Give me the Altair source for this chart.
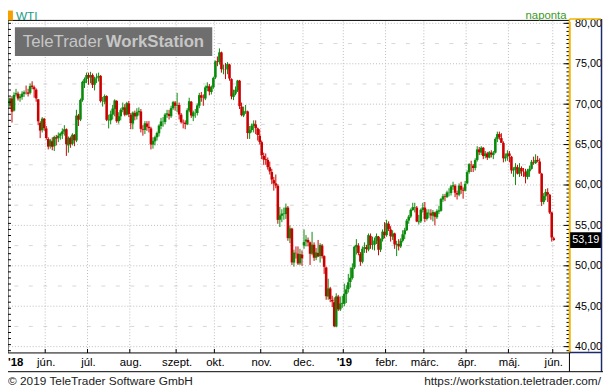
import altair as alt
import pandas as pd

# ---- daily OHLC, WTI, 7 May 2018 .. 3 Jun 2019 ----
opens = [69.80, 70.70, 69.20, 71.20, 71.30, 70.75, 70.90, 71.25, 71.50, 71.45, 71.40, 72.30, 72.10, 71.80, 70.60, 67.70, 66.80, 68.20,
         67.00, 65.70, 64.80, 65.40, 64.80, 65.90, 65.80, 66.10, 66.30, 66.60, 66.90, 64.90, 65.80, 65.10, 66.20, 65.50, 68.60, 68.10, 70.50, 72.60, 73.10,
         73.60, 73.30, 73.60, 72.40, 73.20, 73.30, 73.50, 70.30, 70.30, 71.00, 68.00, 68.00, 68.70, 69.40, 70.40, 67.90, 68.50, 69.30, 69.60, 68.70, 70.10,
         68.70, 67.60, 68.90, 68.50, 69.00, 69.10, 66.90, 66.80, 67.60, 67.20, 67.00, 65.00, 65.40, 65.90, 66.40, 67.30, 67.80, 67.80, 68.70, 68.80, 68.50, 69.50, 70.20,
         69.80, 69.90, 68.70, 67.80, 67.70, 67.50, 69.20, 70.30, 68.50, 68.90, 68.90, 69.80, 71.10, 70.80, 70.70, 72.00, 72.20, 71.50, 72.10,
         73.30, 75.30, 75.20, 76.40, 74.30, 74.30, 74.30, 74.90, 73.10, 70.90, 71.30, 71.70, 72.90, 69.70, 68.60, 69.10, 69.10, 66.40, 66.80, 67.30, 67.50, 67.00, 66.10,
         65.30, 63.60, 63.20, 63.10, 62.20, 61.60, 60.60, 60.20, 59.90, 55.70, 56.20, 56.40, 56.40, 57.20, 53.40, 54.60, 50.40, 51.60, 51.50, 50.30, 51.40,
         52.50, 53.00, 53.20, 52.90, 51.50, 52.60, 51.00, 51.60, 51.20, 52.50, 51.20, 49.80, 46.20, 47.20, 45.80, 45.50, 42.50, 46.20, 44.60, 45.30,
         45.30, 46.50, 47.10, 48.00, 48.50, 49.80, 52.30, 52.50, 51.50, 50.50, 52.10, 52.30, 52.00, 53.70, 52.60, 52.60, 53.10, 53.60, 52.00, 53.30, 54.20,
         53.80, 55.20, 54.50, 53.60, 54.00, 52.60, 52.70, 52.40, 53.10, 53.90, 54.40, 55.60, 56.10, 56.90, 57.20, 57.20, 55.40, 55.50, 56.90,
         57.20, 55.80, 56.50, 56.50, 56.20, 56.60, 56.00, 56.70, 56.80, 58.20, 58.60, 58.50, 59.00, 59.00, 59.80, 59.90, 59.00, 58.80, 59.90, 59.40, 59.30,
         60.20, 61.60, 62.50, 62.40, 62.10, 63.10, 64.40, 64.00, 64.60, 63.60, 63.90, 63.40, 64.00, 63.70, 64.00, 65.70, 66.30, 65.80, 65.20, 63.30, 63.50,
         63.90, 63.50, 61.80, 61.90, 62.20, 61.40, 62.10, 61.70, 61.60, 61.00, 61.70, 62.00, 62.80, 62.70, 63.10, 62.90, 61.40, 57.90, 58.60, 59.10, 58.80, 56.60,
         53.40]
highs = [70.84, 71.00, 71.46, 71.89, 71.55, 71.25, 71.60, 71.70, 72.30, 71.90, 72.55, 72.83, 72.30, 71.95, 70.65, 67.90, 68.40, 68.30,
         67.30, 65.90, 65.70, 65.90, 66.10, 66.20, 66.50, 66.50, 67.00, 67.40, 67.00, 66.00, 66.00, 66.40, 66.30, 69.30, 68.80, 70.70, 72.90, 73.30, 73.90,
         73.90, 74.00, 73.80, 73.40, 73.80, 73.90, 73.60, 70.90, 71.20, 71.10, 68.70, 69.20, 69.90, 70.60, 70.50, 69.00, 69.50, 70.20, 70.00, 70.30, 70.40,
         68.90, 69.10, 69.20, 69.50, 69.60, 69.40, 67.40, 67.90, 67.90, 67.90, 67.20, 65.90, 66.10, 66.60, 67.50, 68.30, 68.40, 68.90, 69.30, 69.30, 69.80, 70.40, 70.40,
         71.40, 70.20, 68.90, 68.10, 68.00, 69.50, 70.80, 70.40, 69.20, 69.40, 70.10, 71.40, 71.50, 71.20, 72.30, 72.70, 72.50, 72.30, 73.40,
         75.40, 75.90, 76.90, 76.50, 74.90, 75.10, 75.20, 75.00, 73.20, 71.80, 72.20, 73.00, 73.00, 70.20, 69.70, 69.90, 69.20, 67.30, 67.60, 68.00, 68.00, 67.10, 66.90,
         65.50, 64.00, 63.90, 63.40, 62.90, 62.00, 61.00, 61.30, 60.10, 57.30, 57.00, 57.20, 57.70, 57.40, 55.00, 54.70, 52.00, 52.40, 52.40, 52.10, 51.90,
         54.50, 53.80, 53.50, 53.00, 54.20, 52.90, 52.20, 53.20, 52.80, 52.70, 51.30, 49.90, 48.40, 47.40, 46.30, 46.10, 46.60, 46.40, 46.20, 46.30,
         47.80, 47.60, 49.00, 49.80, 50.30, 52.50, 53.30, 52.80, 51.70, 52.40, 52.90, 52.60, 54.00, 54.00, 53.60, 53.50, 54.00, 53.70, 53.40, 54.50, 55.40,
         55.70, 55.50, 54.90, 54.40, 54.10, 53.10, 53.30, 53.40, 54.40, 54.70, 55.80, 56.30, 57.10, 57.80, 57.80, 57.40, 56.30, 57.10, 57.80,
         57.90, 57.00, 57.00, 57.00, 56.90, 56.70, 57.00, 57.40, 58.40, 58.90, 58.90, 59.30, 59.60, 60.00, 60.40, 60.10, 59.30, 60.20, 60.40, 59.70, 60.50,
         61.80, 62.70, 63.00, 62.60, 63.30, 64.80, 64.70, 64.80, 64.70, 64.20, 64.10, 64.20, 64.30, 64.20, 65.90, 66.60, 66.60, 66.40, 65.40, 63.90, 64.30,
         64.20, 63.60, 62.20, 62.70, 62.50, 62.70, 62.30, 62.10, 62.00, 62.00, 62.40, 63.10, 63.50, 63.80, 63.60, 63.30, 61.50, 59.00, 59.50, 59.60, 58.90, 56.70,
         53.60]
lows = [69.45, 67.72, 69.10, 70.95, 70.45, 70.30, 70.55, 70.90, 71.20, 70.95, 71.20, 71.85, 70.80, 70.30, 67.40, 65.80, 66.50, 66.70,
        65.60, 64.40, 64.50, 64.30, 64.20, 64.90, 65.30, 65.60, 65.70, 66.10, 63.60, 64.00, 64.60, 64.90, 64.80, 65.30, 67.30, 67.90, 70.30, 72.00, 72.60,
        72.40, 72.60, 72.00, 71.70, 72.60, 72.80, 70.20, 69.70, 70.00, 67.90, 67.00, 67.50, 68.10, 68.50, 67.70, 67.60, 68.00, 69.00, 68.50, 68.60, 68.40,
        66.90, 66.90, 68.00, 68.10, 68.60, 66.50, 66.10, 66.30, 66.70, 66.50, 64.40, 64.50, 64.90, 65.50, 66.00, 66.90, 67.20, 67.50, 68.30, 68.10, 68.30, 69.30, 69.20,
        69.00, 68.10, 67.60, 67.00, 66.90, 67.40, 69.00, 68.30, 67.90, 68.30, 68.60, 69.50, 70.30, 69.80, 70.50, 71.60, 71.10, 71.20, 71.90,
        73.10, 74.70, 74.90, 73.90, 73.70, 73.10, 73.70, 72.90, 70.60, 70.50, 71.10, 71.50, 69.40, 68.50, 68.40, 68.80, 65.70, 65.70, 66.50, 66.50, 66.30, 65.50, 65.00,
        63.20, 62.50, 62.50, 61.90, 61.30, 60.10, 59.30, 59.60, 55.20, 54.80, 55.40, 55.70, 55.80, 53.10, 52.80, 50.10, 49.90, 50.90, 50.10, 50.10, 50.00,
        52.10, 52.40, 52.40, 50.10, 51.30, 50.60, 50.70, 51.10, 50.40, 50.90, 49.00, 45.80, 45.80, 45.50, 44.90, 42.40, 42.40, 44.40, 44.40, 44.80,
        45.00, 45.40, 46.70, 47.30, 48.30, 49.60, 51.40, 51.30, 50.00, 50.30, 51.60, 51.60, 51.80, 52.10, 52.00, 51.90, 52.70, 51.30, 51.70, 53.00, 53.40,
        53.60, 54.30, 53.00, 53.20, 52.10, 51.20, 51.90, 52.20, 52.90, 53.30, 54.30, 55.20, 55.90, 56.80, 56.60, 55.40, 55.10, 55.30, 56.60,
        55.40, 55.60, 55.90, 55.70, 55.50, 55.00, 55.80, 56.40, 56.70, 57.90, 58.00, 58.40, 58.60, 58.70, 59.40, 58.50, 58.20, 58.60, 58.90, 58.30, 59.20,
        60.10, 61.40, 61.60, 61.60, 61.80, 62.90, 63.70, 63.70, 63.20, 63.30, 63.10, 63.30, 63.40, 63.20, 63.90, 65.30, 65.60, 65.30, 62.80, 62.90, 63.00,
        62.80, 61.40, 61.00, 60.00, 61.30, 61.00, 61.10, 61.00, 60.20, 60.70, 61.00, 61.90, 62.50, 62.60, 62.80, 61.40, 57.40, 57.60, 58.10, 57.90, 56.40, 53.00,
        53.10]
closes = [70.73, 69.06, 71.14, 71.36, 70.70, 70.96, 71.31, 71.49, 71.49, 71.28, 72.24, 72.13, 71.84, 70.71, 67.88, 66.73, 68.21, 67.04,
          65.81, 64.75, 65.52, 64.73, 65.95, 65.74, 66.10, 66.36, 66.64, 66.89, 65.06, 65.85, 65.07, 66.22, 65.54, 68.58, 68.08, 70.53, 72.76, 73.10, 73.60,
          73.30, 73.60, 72.40, 73.20, 73.30, 73.50, 70.38, 70.33, 71.01, 68.06, 68.08, 68.76, 69.46, 70.46, 67.89, 68.52, 69.30, 69.61, 68.69, 70.13, 68.76,
          67.66, 68.96, 68.49, 69.01, 69.17, 66.94, 66.81, 67.63, 67.20, 67.04, 65.01, 65.46, 65.91, 66.43, 67.35, 67.86, 67.83, 68.72, 68.87, 68.53, 69.51, 70.25, 69.80,
          69.87, 68.72, 67.77, 67.75, 67.54, 69.25, 70.37, 68.59, 68.99, 68.91, 69.85, 71.12, 70.80, 70.78, 72.08, 72.28, 71.57, 72.12, 73.25,
          75.30, 75.23, 76.41, 74.33, 74.34, 74.29, 74.96, 73.17, 70.97, 71.34, 71.78, 72.92, 69.75, 68.65, 69.12, 69.17, 66.43, 66.82, 67.33, 67.59, 67.04, 66.18, 65.31,
          63.69, 63.14, 63.10, 62.21, 61.67, 60.67, 60.19, 59.93, 55.69, 56.25, 56.46, 56.46, 57.20, 53.43, 54.63, 50.42, 51.63, 51.56, 50.29, 51.45, 50.93,
          52.95, 53.25, 52.89, 51.49, 52.61, 51.00, 51.65, 51.15, 52.58, 51.20, 49.88, 46.24, 47.20, 45.88, 45.59, 42.53, 46.22, 44.61, 45.33, 45.41,
          46.54, 47.09, 47.96, 48.52, 49.78, 52.36, 52.59, 51.59, 50.51, 52.11, 52.31, 52.07, 53.80, 52.57, 52.62, 53.13, 53.69, 51.99, 53.31, 54.23, 53.79,
          55.26, 54.56, 53.66, 54.01, 52.64, 52.72, 52.41, 53.10, 53.90, 54.41, 55.59, 56.09, 56.92, 57.26, 57.26, 55.48, 55.50, 56.94, 57.22,
          55.80, 56.59, 56.56, 56.22, 56.66, 56.07, 56.79, 56.87, 58.26, 58.61, 58.52, 59.09, 59.03, 59.83, 59.98, 59.04, 58.82, 59.94, 59.41, 59.30, 60.14,
          61.59, 62.58, 62.46, 62.10, 63.08, 64.40, 64.05, 64.61, 63.58, 63.89, 63.40, 64.05, 63.76, 64.00, 65.70, 66.30, 65.89, 65.21, 63.30, 63.50, 63.91,
          63.60, 61.81, 61.94, 62.25, 61.40, 62.12, 61.70, 61.66, 61.04, 61.78, 62.02, 62.87, 62.76, 63.10, 62.99, 61.42, 57.91, 58.63, 59.14, 58.81, 56.59, 53.50,
          53.19]

# first trading day of each month (index into the series) and its label
month_pos = [18, 39, 60, 83, 102, 125, 146, 166, 187, 206, 227, 248, 270]
month_labels = ["jún.", "júl.", "aug.", "szept.", "okt.", "nov.", "dec.", "'19", "febr.", "márc.", "ápr.", "máj.", "jún."]
month_bold = [False, False, False, False, False, False, False, True, False, False, False, False, False]

y_major = [40, 45, 50, 55, 60, 65, 70, 75, 80]
y_mid = [42.5, 47.5, 52.5, 57.5, 62.5, 67.5, 72.5, 77.5]
y_minor_ticks = [39.5 + 0.5 * k for k in range(82)]
y_left_ticks = [80 - 0.75 * k for k in range(55)]

GREEN = "#0a8a0a"
RED = "#cc0000"
GOLD = "#f0b400"
NAVY = "#1c2a6c"
FONT = "Liberation Sans"

W, H = 569, 336
xs = alt.Scale(domain=[-0.98, 277.8], nice=False, zero=False)
ys = alt.Scale(domain=[39.22, 80.24], nice=False, zero=False)
yax = alt.Axis(orient="right", values=y_major, title=None, ticks=False, grid=False,
               labelExpr="replace(format(datum.value, '.2f'), '.', ',')",
               labelFont=FONT, labelFontSize=11, labelColor="#000", labelPadding=5,
               labelBaseline="middle", domainColor=GOLD, domainWidth=1.5)

df = pd.DataFrame({"i": list(range(len(closes))), "o": opens, "h": highs, "l": lows, "c": closes})
df["dir"] = ["up" if c > o else "down" for o, c in zip(opens, closes)]
mdf = pd.DataFrame({"p": month_pos, "lab": month_labels, "bold": month_bold})
mdf["g"] = mdf["p"] - 0.5

one = pd.DataFrame({"a": [0]})


def px_rule(x, x2, y, y2, color, w=1):
    return alt.Chart(one).mark_rule(color=color, strokeWidth=w).encode(
        x=alt.value(x), x2=alt.value(x2), y=alt.value(y), y2=alt.value(y2))


def px_text(txt, x, y, size, color, align="left", weight="normal"):
    return alt.Chart(one).mark_text(text=txt, align=align, baseline="middle", font=FONT,
                                    fontSize=size, color=color, fontWeight=weight).encode(
        x=alt.value(x), y=alt.value(y))


col = alt.Color("dir:N", scale=alt.Scale(domain=["up", "down"], range=[GREEN, RED]), legend=None)

grid_h = alt.Chart(pd.DataFrame({"v": y_major})).mark_rule(
    color="#bcbcbc", strokeDash=[1, 2], strokeWidth=1).encode(y=alt.Y("v:Q", scale=ys, axis=yax))
grid_mid = alt.Chart(pd.DataFrame({"v": y_mid})).mark_rule(
    color="#d6d6d6", strokeDash=[4, 10.7], strokeWidth=1).encode(y=alt.Y("v:Q", scale=ys, axis=yax))
grid_v = alt.Chart(mdf).mark_rule(color="#bcbcbc", strokeDash=[1, 2], strokeWidth=1).encode(
    x=alt.X("g:Q", scale=xs, axis=None))

logo_box = alt.Chart(one).mark_rect(color="#6e6e6e").encode(
    x=alt.value(7), x2=alt.value(207), y=alt.value(6), y2=alt.value(35))
logo1 = px_text("TeleTrader", 15, 21, 17, "#c6c6c6")
logo2 = px_text("WorkStation", 99, 21, 17, "#c6c6c6", weight="bold")

wick = alt.Chart(df).mark_rule(strokeWidth=1).encode(
    x=alt.X("i:Q", scale=xs, axis=None),
    y=alt.Y("l:Q", scale=ys, axis=yax), y2="h:Q", color=col)
body = alt.Chart(df).mark_rule(strokeWidth=2.6).encode(
    x=alt.X("i:Q", scale=xs, axis=None),
    y=alt.Y("o:Q", scale=ys, axis=yax), y2="c:Q", color=col)

minor_r = alt.Chart(pd.DataFrame({"v": y_minor_ticks})).mark_rule(color="#000").encode(
    x=alt.value(566), x2=alt.value(569), y=alt.Y("v:Q", scale=ys, axis=yax))
major_r = alt.Chart(pd.DataFrame({"v": y_major})).mark_rule(color="#000").encode(
    x=alt.value(563), x2=alt.value(569), y=alt.Y("v:Q", scale=ys, axis=yax))
left_t = alt.Chart(pd.DataFrame({"v": y_left_ticks})).mark_rule(color="#000").encode(
    x=alt.value(0), x2=alt.value(3), y=alt.Y("v:Q", scale=ys, axis=yax))
month_t = alt.Chart(mdf).mark_rule(color="#000").encode(
    x=alt.X("g:Q", scale=xs, axis=None), y=alt.value(332), y2=alt.value(336))

month_txt = alt.Chart(mdf).transform_filter("!datum.bold").mark_text(
    font=FONT, fontSize=11.5, color="#000", baseline="middle", align="center").encode(
    x=alt.X("p:Q", scale=xs, axis=None), y=alt.value(346), text="lab:N")
month_txt_b = alt.Chart(mdf).transform_filter("datum.bold").mark_text(
    font=FONT, fontSize=11.5, color="#000", baseline="middle", align="center", fontWeight="bold").encode(
    x=alt.X("p:Q", scale=xs, axis=None), y=alt.value(346), text="lab:N")
yr18 = px_text("'18", 0, 346, 11.5, "#000", weight="bold")

last = pd.DataFrame({"v": [closes[-1]]})
last_box = alt.Chart(last).mark_point(
    shape="M-1,-0.485L1,-0.485L1,0.485L-1,0.485Z", filled=True, color="#000", opacity=1,
    size=1089, strokeWidth=0).encode(x=alt.value(585.5), y=alt.Y("v:Q", scale=ys, axis=yax))
last_txt = alt.Chart(last).transform_calculate(
    t="replace(format(datum.v, '.2f'), '.', ',')").mark_text(
    font=FONT, fontSize=11, color="#fff", align="center", baseline="middle").encode(
    x=alt.value(585.5), y=alt.Y("v:Q", scale=ys, axis=yax), text="t:N")

frame = [
    px_rule(0, 569, -1, -1, "#000"),            # header separator
    px_rule(569, 601, -2.5, -2.5, GOLD, 1.5),   # top of value axis
    px_rule(569, 569, -2.5, 336, GOLD, 1.5),    # value axis line
    px_rule(601.5, 601.5, -2.5, 355, NAVY, 1.5),
    px_rule(569, 601, 335.5, 335.5, NAVY, 1.5),
    px_rule(0, 0, -1, 336, "#000"),             # left axis
    px_rule(0, 569, 336, 336, "#000"),          # time axis
    px_rule(0, 603, 355, 355, "#000"),          # bottom of label band
    px_rule(569, 569, 336, 355, "#000"),
]
header = [
    alt.Chart(one).mark_rect(color="#f5a000").encode(
        x=alt.value(0), x2=alt.value(5), y=alt.value(-11), y2=alt.value(-1)),
    px_text("WTI", 8, -5.5, 12, "#1a9a86"),
    px_text("naponta", 566, -5.5, 11.5, "#3a9a22", align="right"),
]
footer = [
    px_text("© 2019 TeleTrader Software GmbH", 0, 364.5, 12, "#222"),
    px_text("https://workstation.teletrader.com/", 601, 364.5, 12, "#222", align="right"),
]

chart = alt.layer(
    grid_h, grid_mid, grid_v, logo_box, logo1, logo2, wick, body,
    minor_r, major_r, left_t, month_t, month_txt, month_txt_b, yr18,
    last_box, last_txt, *frame, *header, *footer
).properties(
    width=W, height=H,
    padding={"left": 0, "top": 11, "right": 34, "bottom": 37},
    autosize=alt.AutoSizeParams(type="none"),
    background="white",
).configure_view(stroke=None)

chart.save("out.html", embed_options={"renderer": "svg", "actions": False})
